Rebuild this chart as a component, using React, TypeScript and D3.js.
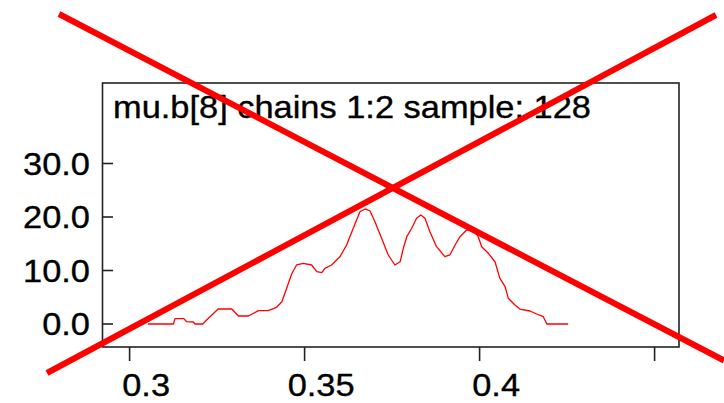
import React from "react";
import * as d3 from "d3";

// Kernel density of mu.b[8] (chains 1:2, 128 samples)
const sampleValues: number[] = [
  0.3053, 0.3125, 0.313, 0.3155, 0.3163, 0.3182, 0.3187, 0.3209, 0.322, 0.3253,
  0.3292, 0.3311, 0.3339, 0.3368, 0.3396, 0.342, 0.3435, 0.3449, 0.3463, 0.3477,
  0.3496, 0.352, 0.3535, 0.3549, 0.3558, 0.3577, 0.3601, 0.362, 0.3639, 0.3658,
  0.3673, 0.3687, 0.3701, 0.372, 0.3739, 0.3758, 0.3773, 0.3782, 0.3792, 0.3806,
  0.382, 0.3832, 0.3844, 0.3858, 0.3877, 0.3901, 0.3915, 0.393, 0.3944, 0.3963,
  0.3982, 0.3996, 0.4006, 0.4025, 0.4044, 0.4058, 0.4073, 0.4082, 0.4101, 0.4115,
  0.4144, 0.4163, 0.4182, 0.4192, 0.4253,
];
const densityValues: number[] = [
  0, 0, 1.0, 1.0, 0.43, 0.37, 0, 0, 0.75, 2.8,
  2.8, 1.5, 1.5, 2.49, 2.49, 3.12, 4.17, 6.73, 9.35, 11.03,
  11.35, 11.03, 9.78, 9.59, 10.41, 11.03, 12.58, 14.77, 17.89, 20.99,
  21.5, 21.12, 19.12, 16.02, 12.9, 11.03, 11.64, 14.15, 16.32, 17.89,
  19.76, 20.37, 19.76, 17.25, 14.45, 12.58, 12.9, 14.77, 16.32, 17.57,
  17.57, 16.32, 14.45, 13.21, 11.64, 8.54, 6.97, 4.8, 3.55, 2.8,
  2.43, 1.87, 1.36, 0, 0,
];

const xTicks: number[] = [0.3, 0.35, 0.4, 0.45];
const xTickLabels: string[] = ["0.3", "0.35", "0.4", ""];
const yTicks: number[] = [0, 10, 20, 30];
const yTickLabels: string[] = ["0.0", "10.0", "20.0", "30.0"];
const title = "mu.b[8] chains 1:2 sample: 128";

const W = 724;
const H = 403;
const frame = { left: 102.5, right: 679, top: 83, bottom: 347 };
const FONT = "'Liberation Sans', Arial, sans-serif";
const FS = 31;
const STRETCH = 1.11; // glyphs are drawn slightly wider than tall

export default function App() {
  const x = d3.scaleLinear().domain([0.3, 0.45]).range([129.6, 654.6]);
  const y = d3.scaleLinear().domain([0, 30]).range([324, 163.5]);

  const points: [number, number][] = sampleValues.map((v, i) => [v, densityValues[i]]);
  const path = d3
    .line<[number, number]>()
    .x((d) => x(d[0]))
    .y((d) => y(d[1]))(points);

  const textProps = {
    fontFamily: FONT,
    fontSize: FS,
    fill: "#000",
    stroke: "#000",
    strokeWidth: 0.35,
  };

  return (
    <svg
      width={W}
      height={H}
      viewBox={`0 0 ${W} ${H}`}
      style={{ position: "absolute", left: 0, top: 0, display: "block", background: "#fff" }}
    >
      <rect x={0} y={0} width={W} height={H} fill="#fff" />
      {/* plot frame */}
      <rect
        x={frame.left}
        y={frame.top}
        width={frame.right - frame.left}
        height={frame.bottom - frame.top}
        fill="none"
        stroke="#222"
        strokeWidth={1.6}
      />
      {/* title inside frame */}
      <text transform={`translate(113,118) scale(${STRETCH},1)`} {...textProps}>
        {title}
      </text>
      {/* y axis: ticks point inward */}
      {yTicks.map((t, i) => (
        <g key={`y${i}`}>
          <line x1={frame.left} x2={frame.left + 10.5} y1={y(t)} y2={y(t)} stroke="#222" strokeWidth={1.6} />
          <text
            transform={`translate(90,${y(t) + 11}) scale(${STRETCH},1)`}
            textAnchor="end"
            {...textProps}
          >
            {yTickLabels[i]}
          </text>
        </g>
      ))}
      {/* x axis: ticks point outward */}
      {xTicks.map((t, i) => (
        <g key={`x${i}`}>
          <line x1={x(t)} x2={x(t)} y1={frame.bottom} y2={frame.bottom + 14} stroke="#222" strokeWidth={1.6} />
          <text
            transform={`translate(${x(t) + 16.5},396) scale(${STRETCH},1)`}
            textAnchor="middle"
            {...textProps}
          >
            {xTickLabels[i]}
          </text>
        </g>
      ))}
      {/* density curve */}
      <path d={path ?? ""} fill="none" stroke="#ff0000" strokeWidth={1.3} strokeLinejoin="round" />
      {/* crossed-out overlay */}
      <line x1={59} y1={14} x2={724} y2={360.5} stroke="#ff0000" strokeWidth={6} />
      <line x1={716} y1={15} x2={47} y2={373} stroke="#ff0000" strokeWidth={6} />
    </svg>
  );
}
